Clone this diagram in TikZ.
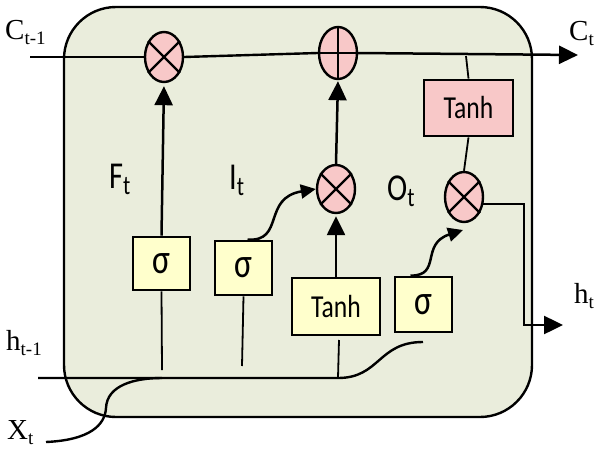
\documentclass[tikz,border=0pt]{standalone}
\usepackage{fontspec}
\setmainfont{Liberation Serif}
\newfontfamily\gs[FakeStretch=0.8]{Carlito}
\usetikzlibrary{arrows.meta,shapes.geometric}
\definecolor{bgc}{RGB}{234,237,220}
\definecolor{pinkc}{RGB}{248,200,200}
\definecolor{yelc}{RGB}{255,255,204}
\newcommand{\lsub}[1]{\raisebox{-5pt}{\fontsize{19}{19}\selectfont #1}}
\newcommand{\gsub}[1]{\raisebox{-6pt}{\fontsize{27}{27}\selectfont #1}}
\tikzset{
  ln/.style={line width=2.4pt},
  thin ln/.style={line width=1.8pt},
  arr/.style={line width=2.5pt,-{Triangle[length=19pt,width=18pt]}},
  warr/.style={line width=2.5pt,-{Triangle[length=15pt,width=14pt]}},
  opnode/.style={ellipse, draw, line width=2.4pt, fill=pinkc, minimum width=38pt, minimum height=50pt, inner sep=0pt},
  ybox/.style={rectangle, draw, line width=2.8pt, fill=yelc, minimum width=57pt, minimum height=54pt, inner sep=0pt, font=\gs\fontsize{42}{42}\selectfont},
  tbox/.style={rectangle, draw, line width=2.8pt, minimum width=88pt, minimum height=57pt, inner sep=0pt, font=\gs\fontsize{32}{32}\selectfont},
  serlab/.style={anchor=base west, inner sep=0pt, font=\fontsize{29}{29}\selectfont},
  sanslab/.style={anchor=base west, inner sep=0pt, font=\gs\fontsize{38}{38}\selectfont}
}
\begin{document}
\begin{tikzpicture}[x=1pt,y=-1pt]
\useasboundingbox (0,0) rectangle (600,450);
% cell body
\draw[ln, fill=bgc, rounded corners=52pt] (64,7) rectangle (532,417);

% nodes
\node[opnode] (fx) at (164,57) {};
\node[opnode, minimum height=52pt] (pl) at (338,53) {};
\node[opnode, minimum height=48pt] (ix) at (336,189) {};
\node[opnode] (ox) at (464,197) {};
\node[ybox, minimum height=53pt] (fs) at (161.5,263.5) {σ};
\node[ybox] (is) at (243.5,268) {σ};
\node[tbox, fill=yelc] (tb) at (336,306.5) {Tanh};
\node[ybox, minimum height=55pt] (os) at (423.5,304.5) {σ};
\node[tbox, fill=pinkc, minimum width=89pt, minimum height=56pt] (tp) at (468.5,108) {Tanh};

% crosses and plus
\draw[ln] (fx.45) -- (fx.225) (fx.135) -- (fx.315);
\draw[ln] (ix.45) -- (ix.225) (ix.135) -- (ix.315);
\draw[ln] (ox.45) -- (ox.225) (ox.135) -- (ox.315);
\draw[ln] (pl.north) -- (pl.south) (pl.west) -- (pl.east);

% labels
\node[serlab] (lc0) at (5,39) {C\lsub{t-1}};
\node[serlab] (lc1) at (569,40) {C\lsub{t}};
\node[serlab] (lh0) at (6,350) {h\lsub{t-1}};
\node[serlab] (lx) at (7,439) {X\lsub{t}};
\node[serlab] (lh1) at (574,303) {h\lsub{t}};
\node[sanslab] (lf) at (109,188) {F\gsub{t}};
\node[sanslab] (li) at (229,189) {I\gsub{t}};
\node[sanslab] (lo) at (387,200) {O\gsub{t}};

% coordinates
\coordinate (cin) at (30,57);
\coordinate (cout) at (578,55);
\coordinate (ctap) at (466,56);
\coordinate (hin) at (38,378);
\coordinate (hj) at (338,378);
\coordinate (hend) at (423,342);
\coordinate (xin) at (46,442);
\coordinate (xj) at (162,378);
\coordinate (fsb) at (162,370);
\coordinate (isb) at (242,366);
\coordinate (tbt) at (339,340);
\coordinate (hc) at (524,325);
\coordinate (hout) at (563,325);
\coordinate (otip) at (463,230);

% cell state line
\draw[ln] (cin) -- (fx.west);
\draw[ln] (fx.east) -- (pl.west);
\draw[arr] (pl.east) -- (cout);
\draw[thin ln] (ctap) -- (tp.north);
\draw[thin ln] (tp.south) -- (ox.north);

% gate arrows
\draw[arr, shorten >=3pt] (fs.north) -- (fx.south);
\draw[arr, shorten >=1pt] (ix.north) -- (pl.south);
\draw[arr, shorten >=2pt] (tb.north) -- (ix.south);
\draw[warr] ([xshift=4pt]is.north) .. controls (285,242) and (262,198) .. (ix.west);
\draw[warr] ([xshift=-13pt]os.north) .. controls (442,276) and (420,244) .. (otip);

% output
\draw[arr] (ox.-20) -| (hc) -- (hout);

% inputs
\draw[ln] (hin) -- (hj) .. controls (380,378) and (378,342) .. (hend);
\draw[ln] (xin) .. controls (90,440) and (105,425) .. (106,408) .. controls (107,385) and (135,378) .. (xj);
\draw[thin ln] (fs.south) -- (fsb);
\draw[thin ln] (is.south) -- (isb);
\draw[thin ln] (tbt) -- (hj);
\end{tikzpicture}
\end{document}
